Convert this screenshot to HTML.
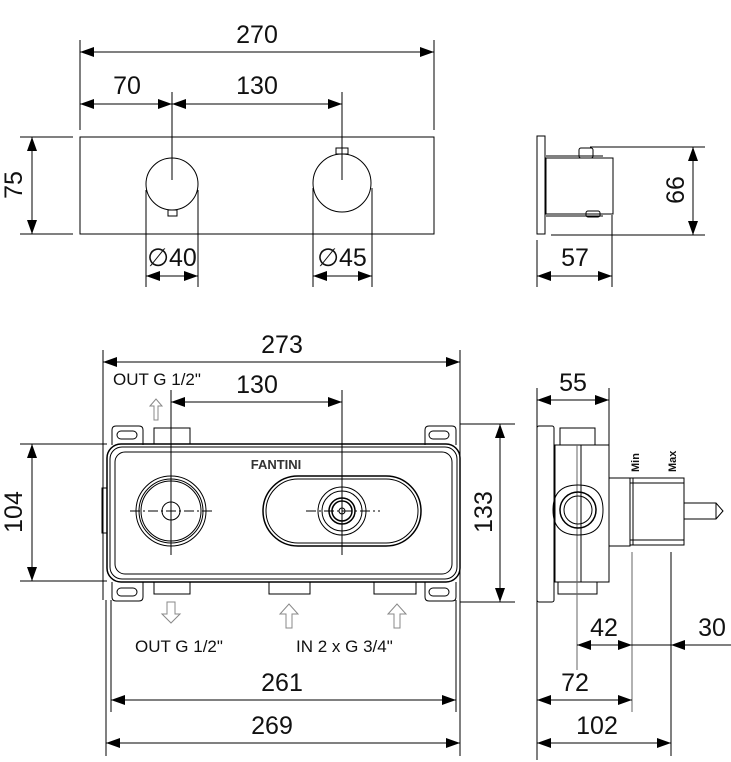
<!DOCTYPE html>
<html><head><meta charset="utf-8"><style>
html,body{margin:0;padding:0;background:#fff}
svg{display:block}
text{font-family:"Liberation Sans",sans-serif;fill:#111}
.d{font-size:25px;text-anchor:middle}
.s{font-size:17px}
</style></head><body>
<svg width="731" height="762" viewBox="0 0 731 762" xmlns="http://www.w3.org/2000/svg">
<defs>
<marker id="a" viewBox="0 0 14 10" refX="14" refY="5" markerWidth="14" markerHeight="10" markerUnits="userSpaceOnUse" orient="auto-start-reverse"><path d="M0,0L14,5L0,10z" fill="#000"/></marker>
</defs>
<g stroke="#000" stroke-width="1" fill="none">
<line x1="80" y1="40" x2="80" y2="130"/><line x1="434" y1="40" x2="434" y2="130"/>
<line x1="80" y1="52" x2="434" y2="52" marker-start="url(#a)" marker-end="url(#a)"/>
<line x1="80" y1="104" x2="172" y2="104" marker-start="url(#a)" marker-end="url(#a)"/>
<line x1="172" y1="104" x2="342" y2="104" marker-start="url(#a)" marker-end="url(#a)"/>
<line x1="172" y1="92" x2="172" y2="180"/><line x1="342" y1="92" x2="342" y2="180"/>
<rect x="80" y="137" width="354" height="97"/>
<circle cx="172" cy="184" r="26"/>
<rect x="168" y="210" width="9" height="6"/>
<circle cx="342" cy="183" r="29"/>
<rect x="336" y="148" width="12" height="6"/>
<line x1="20" y1="137" x2="73" y2="137"/><line x1="20" y1="234" x2="73" y2="234"/>
<line x1="32" y1="137" x2="32" y2="234" marker-start="url(#a)" marker-end="url(#a)"/>
<line x1="146" y1="190" x2="146" y2="287"/><line x1="198" y1="190" x2="198" y2="287"/>
<line x1="146" y1="276" x2="198" y2="276" marker-start="url(#a)" marker-end="url(#a)"/>
<line x1="313" y1="188" x2="313" y2="287"/><line x1="372" y1="188" x2="372" y2="287"/>
<line x1="313" y1="276" x2="372" y2="276" marker-start="url(#a)" marker-end="url(#a)"/>
<rect x="537" y="136" width="8" height="98"/>
<rect x="546" y="158" width="67" height="56"/>
<rect x="579" y="148" width="14" height="10" rx="2"/>
<line x1="546" y1="156" x2="603" y2="156"/><line x1="546" y1="216" x2="603" y2="216"/>
<rect x="586" y="211" width="14" height="6" rx="2"/>
<line x1="590" y1="147" x2="705" y2="147"/><line x1="551" y1="235" x2="705" y2="235"/>
<line x1="693" y1="147" x2="693" y2="235" marker-start="url(#a)" marker-end="url(#a)"/>
<line x1="537" y1="240" x2="537" y2="287"/><line x1="612" y1="215" x2="612" y2="287"/>
<line x1="537" y1="276" x2="612" y2="276" marker-start="url(#a)" marker-end="url(#a)"/>
<line x1="103" y1="350" x2="103" y2="600"/><line x1="460" y1="350" x2="460" y2="600"/>
<line x1="103" y1="362" x2="460" y2="362" marker-start="url(#a)" marker-end="url(#a)"/>
<line x1="171" y1="390" x2="171" y2="555"/><line x1="342" y1="390" x2="342" y2="555"/>
<line x1="171" y1="402" x2="342" y2="402" marker-start="url(#a)" marker-end="url(#a)"/>
<path d="M150,406 L156,399 L162,406 L158,406 L158,420 L154,420 L154,406 Z" stroke="#888"/>
<rect x="107" y="444" width="353" height="138" rx="14" stroke-width="1.5"/>
<rect x="110" y="447" width="347" height="132" rx="12"/>
<rect x="115" y="452" width="337" height="122" rx="10"/>
<path d="M112,445 L112,430 Q112,426 116,426 L139,426 Q143,426 143,430 L143,445"/>
<rect x="117" y="431" width="20" height="8" rx="4"/>
<path d="M425,445 L425,430 Q425,426 429,426 L452,426 Q456,426 456,430 L456,445"/>
<rect x="429" y="431" width="20" height="8" rx="4"/>
<path d="M112,582 L112,597 Q112,601 116,601 L139,601 Q143,601 143,597 L143,582"/>
<rect x="117" y="588" width="20" height="8" rx="4"/>
<path d="M425,582 L425,597 Q425,601 429,601 L452,601 Q456,601 456,597 L456,582"/>
<rect x="429" y="588" width="20" height="8" rx="4"/>
<rect x="154" y="428" width="36" height="16"/>
<rect x="154" y="582" width="36" height="12"/>
<rect x="269" y="582" width="41" height="12"/>
<rect x="374" y="582" width="42" height="12"/>
<rect x="102" y="488" width="5" height="45"/>
<circle cx="171" cy="511" r="35"/><circle cx="171" cy="511" r="32"/><circle cx="171" cy="511" r="30"/><circle cx="171" cy="511" r="9"/>
<line x1="130" y1="511" x2="214" y2="511" stroke-dasharray="10,3,2,3"/>
<line x1="171" y1="470" x2="171" y2="555" stroke-dasharray="10,3,2,3"/>
<rect x="263" y="476" width="158" height="70" rx="35" stroke-width="1.5"/>
<rect x="266" y="479" width="152" height="64" rx="32"/>
<circle cx="342" cy="511" r="24"/><circle cx="342" cy="511" r="20"/>
<circle cx="342" cy="511" r="13" stroke-width="1.5"/><circle cx="342" cy="511" r="10" stroke-width="1.5"/><circle cx="342" cy="511" r="3"/>
<line x1="306" y1="511" x2="380" y2="511" stroke-dasharray="10,3,2,3"/>
<line x1="20" y1="444" x2="107" y2="444"/><line x1="20" y1="581" x2="107" y2="581"/>
<line x1="32" y1="444" x2="32" y2="581" marker-start="url(#a)" marker-end="url(#a)"/>
<line x1="460" y1="424" x2="515" y2="424"/><line x1="460" y1="602" x2="515" y2="602"/>
<line x1="500" y1="424" x2="500" y2="602" marker-start="url(#a)" marker-end="url(#a)"/>
<path d="M167,602 L175,602 L175,614 L180,614 L171,623 L162,614 L167,614 Z" stroke="#888"/>
<path d="M286,628 L292,628 L292,614 L298,614 L289,604 L280,614 L286,614 Z" stroke="#888"/>
<path d="M394,628 L400,628 L400,614 L406,614 L397,604 L388,614 L394,614 Z" stroke="#888"/>
<line x1="111" y1="600" x2="111" y2="712"/><line x1="456" y1="600" x2="456" y2="712"/>
<line x1="111" y1="700" x2="456" y2="700" marker-start="url(#a)" marker-end="url(#a)"/>
<line x1="106" y1="600" x2="106" y2="756"/><line x1="460" y1="600" x2="460" y2="756"/>
<line x1="106" y1="743" x2="460" y2="743" marker-start="url(#a)" marker-end="url(#a)"/>
<line x1="537" y1="388" x2="537" y2="760"/><line x1="609" y1="388" x2="609" y2="445"/>
<line x1="537" y1="400" x2="609" y2="400" marker-start="url(#a)" marker-end="url(#a)"/>
<rect x="537" y="426" width="17" height="176" rx="2"/>
<rect x="555" y="445" width="54" height="137"/>
<rect x="560" y="428" width="35" height="17"/>
<rect x="558" y="582" width="39" height="12"/>
<line x1="577" y1="445" x2="577" y2="670" stroke="#666"/>
<line x1="581" y1="445" x2="581" y2="582"/>
<path d="M553,510 Q553,485 578,485 Q603,485 603,510 Q603,535 578,535 Q553,535 553,510"/>
<circle cx="578" cy="510" r="18" stroke-width="1.5"/><circle cx="578" cy="510" r="14"/>
<rect x="609" y="478" width="21" height="68"/>
<rect x="630" y="478" width="54" height="67"/>
<line x1="633" y1="478" x2="633" y2="545"/>
<line x1="630" y1="483" x2="684" y2="483"/><line x1="630" y1="540" x2="684" y2="540"/>
<path d="M684,503 L716,503 L723,511 L716,519 L684,519"/>
<line x1="716" y1="503" x2="716" y2="519"/>
<line x1="632" y1="552" x2="632" y2="712" stroke="#666"/>
<line x1="671" y1="552" x2="671" y2="756"/>
<line x1="577" y1="645" x2="632" y2="645" marker-start="url(#a)" marker-end="url(#a)"/>
<line x1="632" y1="645" x2="671" y2="645"/>
<line x1="731" y1="645" x2="671" y2="645" marker-end="url(#a)"/>
<line x1="537" y1="700" x2="632" y2="700" marker-start="url(#a)" marker-end="url(#a)"/>
<line x1="537" y1="743" x2="671" y2="743" marker-start="url(#a)" marker-end="url(#a)"/>
</g>
<text class="d" x="257" y="43">270</text>
<text class="d" x="127" y="94">70</text>
<text class="d" x="257" y="94">130</text>
<text class="d" transform="translate(22,185) rotate(-90)">75</text>
<text class="d" x="172" y="266">∅40</text>
<text class="d" x="342" y="266">∅45</text>
<text class="d" transform="translate(684,190) rotate(-90)">66</text>
<text class="d" x="575" y="266">57</text>
<text class="d" x="282" y="353">273</text>
<text class="s" x="113" y="385">OUT G 1/2"</text>
<text class="d" x="257" y="393">130</text>
<text x="276" y="469" style="font-size:13px;font-weight:bold;text-anchor:middle;fill:#333">FANTINI</text>
<text class="d" transform="translate(22,512) rotate(-90)">104</text>
<text class="d" transform="translate(492,512) rotate(-90)">133</text>
<text class="s" x="135" y="652">OUT G 1/2"</text>
<text class="s" x="296" y="652">IN 2 x G 3/4"</text>
<text class="d" x="282" y="691">261</text>
<text class="d" x="272" y="734">269</text>
<text class="d" x="573" y="391">55</text>
<text transform="translate(639,472) rotate(-90)" style="font-size:11px;font-weight:bold">Min</text>
<text transform="translate(676,472) rotate(-90)" style="font-size:11px;font-weight:bold">Max</text>
<text class="d" x="604" y="636">42</text>
<text class="d" x="712" y="636">30</text>
<text class="d" x="575" y="691">72</text>
<text class="d" x="597" y="734">102</text>
</svg>
</body></html>
